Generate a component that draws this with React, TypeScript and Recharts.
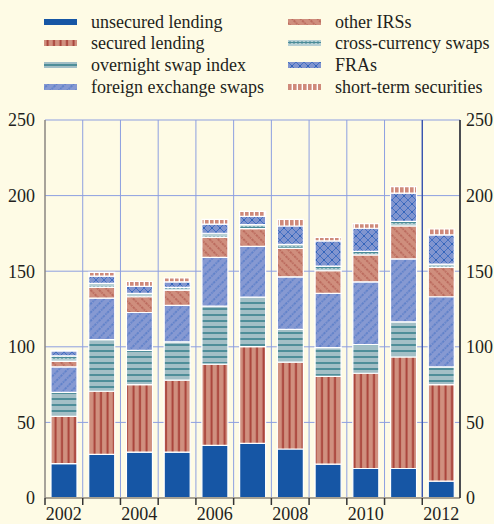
import { Bar, CartesianGrid, ComposedChart, Line, ReferenceLine, XAxis, YAxis } from 'recharts';

const YEARS = ['2002', '2003', '2004', '2005', '2006', '2007', '2008', '2009', '2010', '2011', '2012'];

// Stacked amounts, bottom to top
const UNSECURED = [22.7, 28.8, 30.4, 30.4, 34.8, 36.1, 32.4, 22.4, 19.5, 19.5, 11.1];
const SECURED = [31.3, 41.8, 44.6, 47.5, 53.7, 64.0, 57.4, 58.1, 63.0, 73.8, 63.9];
const OVERNIGHT = [15.9, 34.2, 22.7, 25.4, 38.4, 32.8, 21.7, 19.0, 19.0, 23.2, 11.7];
const FX_SWAPS = [16.8, 27.4, 25.0, 24.1, 32.3, 33.5, 34.8, 35.8, 41.5, 41.6, 46.4];
const OTHER_IRS = [3.6, 7.1, 10.4, 10.1, 13.2, 11.7, 18.8, 15.0, 17.7, 21.8, 19.4];
const CROSS_CCY = [3.7, 2.6, 2.2, 1.8, 2.7, 2.7, 2.7, 3.1, 2.4, 3.1, 2.2];
const FRAS = [3.3, 4.9, 4.7, 3.7, 6.1, 5.5, 12.1, 16.6, 15.3, 18.6, 19.3];
const SHORT_TERM = [0.4, 2.4, 3.2, 2.5, 3.1, 3.3, 4.4, 2.4, 3.0, 4.4, 3.9];

const Y_TICKS = [0, 50, 100, 150, 200, 250];
const X_LABELS = ['2002', '2004', '2006', '2008', '2010', '2012'];

const SERIES = [
  { key: 'unsecured', name: 'unsecured lending', fill: '#1656a5' },
  { key: 'secured', name: 'secured lending', fill: 'url(#p-secured)' },
  { key: 'overnight', name: 'overnight swap index', fill: 'url(#p-ois)' },
  { key: 'fx', name: 'foreign exchange swaps', fill: 'url(#p-fx)' },
  { key: 'irs', name: 'other IRSs', fill: 'url(#p-irs)' },
  { key: 'ccs', name: 'cross-currency swaps', fill: 'url(#p-ccs)' },
  { key: 'fra', name: 'FRAs', fill: 'url(#p-fra)' },
  { key: 'sts', name: 'short-term securities', fill: 'url(#p-sts)' },
];

const data = YEARS.map((year, i) => ({
  year,
  unsecured: UNSECURED[i],
  secured: SECURED[i],
  overnight: OVERNIGHT[i],
  fx: FX_SWAPS[i],
  irs: OTHER_IRS[i],
  ccs: CROSS_CCY[i],
  fra: FRAS[i],
  sts: SHORT_TERM[i],
}));

const FONT = '"Liberation Serif", "Times New Roman", serif';
const BG = '#fefbe5';
const GRID = '#8d9fe0';

function Patterns() {
  return (
    <svg width={0} height={0} style={{ position: 'absolute' }}>
      <defs>
        <pattern id="p-secured" width={6.5} height={10} patternUnits="userSpaceOnUse">
          <rect width={6.5} height={10} fill="#d0907f" />
          <rect x={2.5} width={2} height={10} fill="#a9433a" />
        </pattern>
        <pattern id="p-ois" width={10} height={6} patternUnits="userSpaceOnUse">
          <rect width={10} height={6} fill="#a3bfc6" />
          <rect y={2} width={10} height={2} fill="#4f8e99" />
        </pattern>
        <pattern id="p-fx" width={6} height={6} patternUnits="userSpaceOnUse" patternTransform="rotate(45)">
          <rect width={6} height={6} fill="#8699d2" />
          <line x1={3} y1={0} x2={3} y2={6} stroke="#3d6cc2" strokeWidth={1} strokeDasharray="1.5 1" />
        </pattern>
        <pattern id="p-irs" width={6} height={6} patternUnits="userSpaceOnUse" patternTransform="rotate(-45)">
          <rect width={6} height={6} fill="#cf8e7d" />
          <line x1={3} y1={0} x2={3} y2={6} stroke="#a8483f" strokeWidth={1} strokeDasharray="1.5 1" />
        </pattern>
        <pattern id="p-ccs" width={4} height={5} patternUnits="userSpaceOnUse">
          <rect width={4} height={5} fill="#b7d0d4" />
          <rect y={2} width={4} height={1} fill="#4a8b97" />
          <rect x={1.5} y={1} width={1} height={3} fill="#4a8b97" />
        </pattern>
        <pattern id="p-fra" width={8} height={8} patternUnits="userSpaceOnUse">
          <rect width={8} height={8} fill="#8195cf" />
          <path d="M0,0 L8,8 M8,0 L0,8" stroke="#3d6cc2" strokeWidth={0.9} />
          <rect x={3.3} y={3.3} width={1.4} height={1.4} fill="#2058b0" />
        </pattern>
        <pattern id="p-sts" width={5} height={10} patternUnits="userSpaceOnUse">
          <rect width={5} height={10} fill="#ffffff" />
          <rect width={3.6} height={10} fill="#cf8a7a" />
        </pattern>
      </defs>
    </svg>
  );
}

function Legend() {
  return (
    <>
      {SERIES.map((s, i) => {
        const col = i < 4 ? 0 : 1;
        const row = i % 4;
        const sx = col === 0 ? 44 : 288;
        const cy = 21.7 + row * 21.7;
        return (
          <div key={s.key}>
            <svg width={33} height={6} style={{ position: 'absolute', left: sx, top: cy - 3 }}>
              <rect width={33} height={6} fill={s.fill} />
            </svg>
            <div
              style={{
                position: 'absolute',
                left: sx + 47,
                top: cy - 11,
                fontSize: 18,
                lineHeight: '22px',
                color: '#231f20',
                whiteSpace: 'nowrap',
              }}
            >
              {s.name}
            </div>
          </div>
        );
      })}
    </>
  );
}

function YearTick(props: any) {
  const { x, y, payload, width } = props;
  const half = payload.offset ?? width / YEARS.length / 2;
  const bx = x - half;
  return (
    <g>
      <line x1={bx} y1={y} x2={bx} y2={y + 7} stroke="#333" strokeWidth={1.5} />
      {X_LABELS.includes(payload.value) && (
        <text x={x} y={y + 22} textAnchor="middle" fontSize={18} fontFamily={FONT} fill="#231f20">
          {payload.value}
        </text>
      )}
    </g>
  );
}

export default function App() {
  return (
    <div
      style={{
        position: 'absolute',
        left: 0,
        top: 0,
        width: 494,
        height: 524,
        background: BG,
        fontFamily: FONT,
        overflow: 'hidden',
      }}
    >
      <Patterns />
      <Legend />
      <ComposedChart
        width={494}
        height={524}
        data={data}
        margin={{ top: 120, right: 0, bottom: 0, left: 0 }}
        barSize={26}
        style={{ position: 'absolute', left: 0, top: 0 }}
      >
        <CartesianGrid
          yAxisId="left"
          stroke={GRID}
          strokeWidth={1}
          horizontalValues={[50, 100, 150, 200, 250]}
          verticalCoordinatesGenerator={({ offset }: any) =>
            Array.from({ length: YEARS.length }, (_, i) => offset.left + ((i + 1) * offset.width) / YEARS.length)
          }
        />
        <XAxis
          dataKey="year"
          height={26}
          interval={0}
          tickLine={false}
          tickSize={0}
          tickMargin={0}
          axisLine={{ stroke: '#a8a293', strokeWidth: 2 }}
          tick={<YearTick />}
        />
        <YAxis
          yAxisId="left"
          orientation="left"
          width={45}
          domain={[0, 250]}
          ticks={Y_TICKS}
          tickLine={false}
          tickMargin={4}
          axisLine={{ stroke: '#8a8680', strokeWidth: 1.5 }}
          tick={{ fontSize: 18, fontFamily: FONT, fill: '#231f20' }}
        />
        <YAxis
          yAxisId="right"
          orientation="right"
          width={34}
          domain={[0, 250]}
          ticks={Y_TICKS}
          tickLine={false}
          tickSize={5}
          tickMargin={1}
          axisLine={{ stroke: '#222', strokeWidth: 1.5 }}
          tick={{ fontSize: 18, fontFamily: FONT, fill: '#231f20', textAnchor: 'start' }}
        />
        <ReferenceLine yAxisId="left" x="2012" position="start" stroke="#2a48a8" strokeWidth={1.2} />
        {SERIES.map((s) => (
          <Bar
            key={s.key}
            yAxisId="left"
            dataKey={s.key}
            name={s.name}
            stackId="a"
            fill={s.fill}
            stroke="#ffffff"
            strokeWidth={1.2}
            isAnimationActive={false}
          />
        ))}
        {/* invisible series so the right-hand axis gets a scale */}
        <Line
          yAxisId="right"
          dataKey="unsecured"
          stroke="none"
          dot={false}
          activeDot={false}
          legendType="none"
          isAnimationActive={false}
        />
      </ComposedChart>
    </div>
  );
}
